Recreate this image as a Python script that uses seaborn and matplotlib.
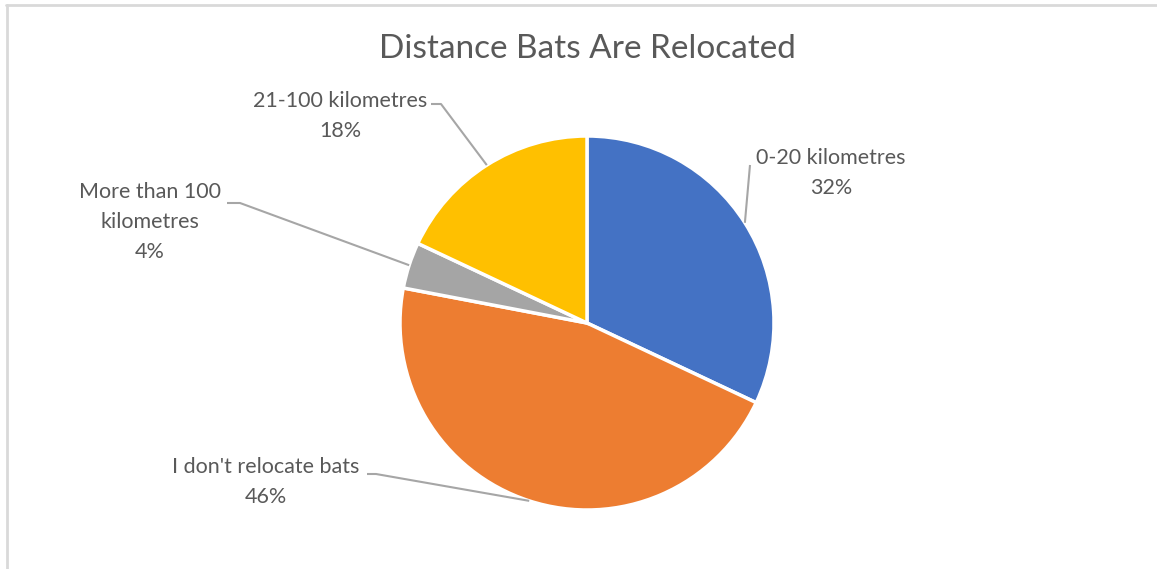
import matplotlib
matplotlib.use("Agg")
import matplotlib.pyplot as plt
import numpy as np
import seaborn as sns

# Survey responses: how far bats are relocated
categories = ["0-20 kilometres", "I don't relocate bats", "More than 100\nkilometres", "21-100 kilometres"]
shares = [32, 46, 4, 18]
colors = ["#4472C4", "#ED7D31", "#A5A5A5", "#FFC000"]
title = "Distance Bats Are Relocated"

sns.set_theme(style="white")
plt.rcParams["font.family"] = ["Lato", "DejaVu Sans"]

W, H = 1157, 569
fig = plt.figure(figsize=(W / 100, H / 100), dpi=100)
ax = fig.add_axes([0, 0, 1, 1])

def py(y):
    # pixel row (top-down) -> data y (bottom-up)
    return H - y

cx, cy, r = 587, py(323), 187
wedges, _ = ax.pie(
    shares, colors=colors, startangle=90, counterclock=False,
    center=(cx, cy), radius=r,
    wedgeprops=dict(edgecolor="white", linewidth=2.5),
)
ax.set_xlim(0, W)
ax.set_ylim(0, H)
ax.set_aspect("auto")
ax.axis("off")

text_color = "#595959"
line_color = "#A6A6A6"
fs = 15.5
line_gap = 30

# label layout: text centre x, first-line row, leader elbow and its end near the text
layout = [
    dict(tx=831, ty=158, elbow=None, end=(750, 165)),
    dict(tx=266, ty=467, elbow=(376, 474), end=(367, 474)),
    dict(tx=150, ty=192, elbow=(240, 203), end=(227, 203)),
    dict(tx=340, ty=101, elbow=(441, 104), end=(431, 104)),
]

for w, cat, val, lay in zip(wedges, categories, shares, layout):
    mid = np.deg2rad((w.theta1 + w.theta2) / 2)
    xs = [cx + r * np.cos(mid)]
    ys = [cy + r * np.sin(mid)]
    if lay["elbow"] is not None:
        xs.append(lay["elbow"][0]); ys.append(py(lay["elbow"][1]))
    xs.append(lay["end"][0]); ys.append(py(lay["end"][1]))
    ax.plot(xs, ys, color=line_color, lw=1.5, solid_capstyle="butt", zorder=1)
    lines = cat.split("\n") + [f"{val}%"]
    for i, s in enumerate(lines):
        ax.text(lay["tx"], py(lay["ty"] + i * line_gap), s, ha="center", va="center",
                fontsize=fs, color=text_color)

ax.text(587, py(49), title, ha="center", va="center", fontsize=24, color=text_color)

# chart-area border (top and left edges)
border = "#D9D9D9"
fig.add_artist(plt.Line2D([6 / W, 1], [1 - 5 / H, 1 - 5 / H], color=border, lw=2, transform=fig.transFigure))
fig.add_artist(plt.Line2D([7 / W, 7 / W], [0, 1 - 5 / H], color=border, lw=2, transform=fig.transFigure))

fig.savefig("out.png", dpi=100, facecolor="white")
